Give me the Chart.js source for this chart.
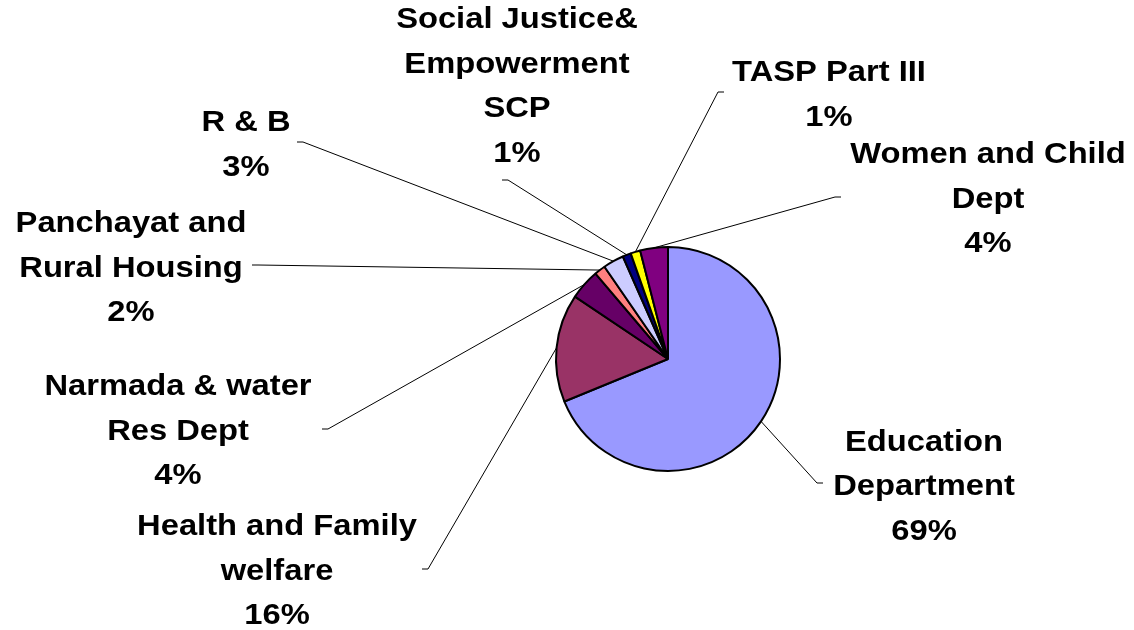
<!DOCTYPE html>
<html>
<head>
<meta charset="utf-8">
<script src="https://cdn.jsdelivr.net/npm/chart.js@4/dist/chart.umd.min.js"></script>
<style>
  html, body { margin: 0; padding: 0; background: #fff; }
  #wrap { width: 1134px; height: 630px; position: relative; }
</style>
</head>
<body>
<div id="wrap"><canvas id="pie"></canvas></div>
<script>
// slice order: clockwise from 12 o'clock
const categories = [
  "Education Department",
  "Health and Family welfare",
  "Narmada & water Res Dept",
  "Panchayat and Rural Housing",
  "R & B",
  "Social Justice& Empowerment SCP",
  "TASP Part III",
  "Women and Child Dept",
];
const shares = [68.8, 15.6, 4.4, 1.6, 3.0, 1.2, 1.4, 4.0];
const labelLines = [
  ["Education", "Department"],
  ["Health and Family", "welfare"],
  ["Narmada & water", "Res Dept"],
  ["Panchayat and", "Rural Housing"],
  ["R & B"],
  ["Social Justice&", "Empowerment", "SCP"],
  ["TASP Part III"],
  ["Women and Child", "Dept"],
];
const sliceColors = ["#9999FF", "#993366", "#660066", "#FF8080", "#CCCCFF", "#000080", "#FFFF00", "#800080"];

// where each label sits (text centre x, first line y) and where its leader line ends
const labelPlace = [
  { x: 924, y: 442.5, ax: 817, ay: 483, tick: 6 },
  { x: 277, y: 527, ax: 428, ay: 569, tick: -6 },
  { x: 178, y: 387, ax: 328, ay: 429, tick: -6 },
  { x: 131, y: 224, ax: 258, ay: 265, tick: -6 },
  { x: 246, y: 123, ax: 303, ay: 142, tick: -6 },
  { x: 517, y: 20, ax: 508, ay: 180, tick: -6 },
  { x: 829, y: 73, ax: 718, ay: 92, tick: 6 },
  { x: 988, y: 155, ax: 835, ay: 197, tick: 6 },
];

const LINE_GAP = 44.5;

const outsideLabels = {
  id: "outsideLabels",
  afterDatasetsDraw(chart) {
    const ctx = chart.ctx;
    const arcs = chart.getDatasetMeta(0).data;
    const total = shares.reduce((a, b) => a + b, 0);

    ctx.save();
    ctx.strokeStyle = "#000";
    ctx.lineWidth = 1;
    arcs.forEach((arc, i) => {
      const p = arc.getProps(["x", "y", "startAngle", "endAngle", "outerRadius"], true);
      const mid = (p.startAngle + p.endAngle) / 2;
      const px = p.x + Math.cos(mid) * p.outerRadius;
      const py = p.y + Math.sin(mid) * p.outerRadius;
      const lp = labelPlace[i];
      ctx.beginPath();
      ctx.moveTo(px, py);
      ctx.lineTo(lp.ax, lp.ay);
      ctx.lineTo(lp.ax + lp.tick, lp.ay);
      ctx.stroke();
    });

    ctx.fillStyle = "#000";
    ctx.font = "bold 30px 'Liberation Sans', Arial, sans-serif";
    ctx.textAlign = "center";
    ctx.textBaseline = "middle";
    labelLines.forEach((lines, i) => {
      const lp = labelPlace[i];
      const pct = Math.round(shares[i] / total * 100) + "%";
      [...lines, pct].forEach((txt, k) => {
        ctx.save();
        ctx.translate(lp.x, lp.y + k * LINE_GAP);
        ctx.scale(1.09, 1);
        ctx.fillText(txt, 0, 0);
        ctx.restore();
      });
    });
    ctx.restore();
  },
};

new Chart(document.getElementById("pie"), {
  type: "pie",
  data: {
    labels: categories,
    datasets: [{
      data: shares,
      backgroundColor: sliceColors,
      borderColor: "#000",
      borderWidth: 2,
      hoverOffset: 0,
    }],
  },
  options: {
    responsive: true,
    maintainAspectRatio: false,
    animation: false,
    radius: 112,
    layout: { padding: { left: 556, right: 354, top: 247, bottom: 159 } },
    plugins: {
      legend: { display: false },
      tooltip: { enabled: false },
    },
  },
  plugins: [outsideLabels],
});
</script>
</body>
</html>
